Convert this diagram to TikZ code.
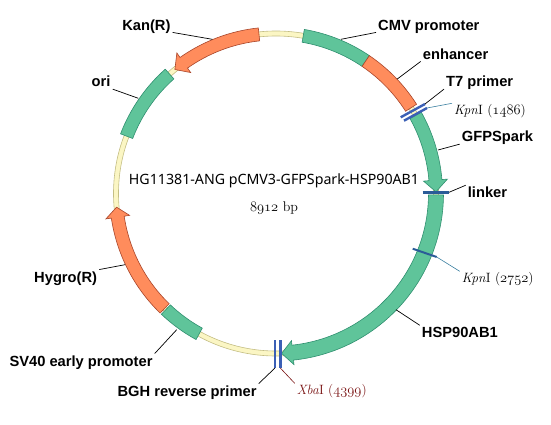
\documentclass[tikz,border=0pt]{standalone}
\usepackage{fontspec}
\newfontfamily\lblfont{Liberation Sans}
\newfontfamily\titlefont{Noto Sans}
\usetikzlibrary{arrows.meta,positioning}
\definecolor{bandgreen}{HTML}{5FC49A}
\definecolor{edgegreen}{HTML}{2F8F6F}
\definecolor{bandorange}{HTML}{FF8C5C}
\definecolor{edgeorange}{HTML}{A8452A}
\definecolor{backfill}{HTML}{FBF6C4}
\definecolor{backedge}{HTML}{C4BE84}
\definecolor{siteblue}{HTML}{3B5FB5}
\definecolor{sitenavy}{HTML}{2B5C98}
\definecolor{leadteal}{HTML}{3A7FA0}
\definecolor{sitered}{HTML}{7A1414}
\tikzset{
  greenband/.style={draw=edgegreen,fill=bandgreen,line width=0.6pt},
  orangeband/.style={draw=edgeorange,fill=bandorange,line width=0.6pt},
  backbone/.style={draw=backedge,fill=backfill,even odd rule,line width=0.6pt},
  lead/.style={black,line width=0.7pt},
  lbl/.style={font=\lblfont\bfseries\fontsize{14.7}{16}\selectfont,text height=10.5pt,text depth=0pt,inner sep=2pt},
  sitelbl/.style={font=\fontsize{13.5}{15}\selectfont,text height=9pt,text depth=0pt,inner sep=2pt},
  sitebar/.style={siteblue,line width=2.4pt}
}
\newcommand{\rout}{166.5pt}
\newcommand{\rin}{153.5pt}
\newcommand{\rmid}{160pt}
\newcommand{\rhi}{172pt}
\newcommand{\rlo}{148pt}
\newcommand{\onums}[1]{$\mathnormal{#1}$}
\newcommand{\plbox}[3]{\draw[#1] (#2:\rout) arc[start angle=#2,end angle=#3,radius=\rout] -- (#3:\rin) arc[start angle=#3,end angle=#2,radius=\rin] -- cycle;}
\newcommand{\plarrow}[4]{\draw[#1] (#2:\rout) arc[start angle=#2,end angle=#3,radius=\rout] -- (#3:\rhi) -- (#4:\rmid) -- (#3:\rlo) -- (#3:\rin) arc[start angle=#3,end angle=#2,radius=\rin] -- cycle;}
\begin{document}
\begin{tikzpicture}[x=1pt,y=1pt]
\useasboundingbox (0,0) rectangle (551,424);
% ring and features
\begin{scope}[shift={(276,230.5)}]
\draw[backbone] (0,0) circle[radius=162.5pt] (0,0) circle[radius=157.5pt];
\plbox{greenband}{80.2}{55.9}
\plbox{orangeband}{55.9}{32.4}
\plarrow{greenband}{29.2}{4.8}{0.6}
{\renewcommand{\rout}{167.5pt}\renewcommand{\rin}{152.5pt}\plarrow{greenband}{-0.5}{-84}{-88}}
\plbox{greenband}{131.7}{159}
\plarrow{orangeband}{96.1}{125.2}{129.2}
\plarrow{orangeband}{225.9}{188.5}{184.9}
\plbox{greenband}{226.5}{241.3}
\end{scope}
% site bars
\draw[sitebar] (400.7,306.7) coordinate (t7a) -- (425,320) coordinate (t7b);
\draw[sitebar] (404,303.3) coordinate (kpna) -- (427,316) coordinate (kpnb);
\draw[sitebar,sitenavy] (422.7,231.7) coordinate (lnka) -- (449,231.7) coordinate (lnkb);
\draw[sitebar,sitenavy,line width=2pt] (412.7,175.3) coordinate (kpnc) -- (436.7,167) coordinate (kpnd);
\draw[sitebar] (275,84) coordinate (bgha) -- (275,56) coordinate (bghb);
\draw[sitebar] (280.3,84) coordinate (xbaa) -- (280.3,56) coordinate (xbab);
% labels
\node[font=\titlefont\fontsize{14.2}{15}\selectfont,inner sep=0pt] (title) at (274,243.5) {HG11381-ANG pCMV3-GFPSpark-HSP90AB1};
\node[font=\fontsize{14}{15}\selectfont,inner sep=0pt] (size) at (274,216) {\onums{8912} bp};
\node[lbl,anchor=west] (cmv) at (376,399) {CMV promoter};
\node[lbl,anchor=west] (enh) at (420.7,370) {enhancer};
\node[lbl,anchor=west] (t7) at (444,342.3) {T7 primer};
\node[sitelbl,anchor=west] (kpnlbla) at (452,314) {\textit{Kpn}I (\onums{1486})};
\node[lbl,anchor=west] (gfp) at (459.7,287.3) {GFPSpark};
\node[lbl,anchor=west] (lnk) at (465.7,231.3) {linker};
\node[sitelbl,anchor=west] (kpnlblb) at (459.7,146) {\textit{Kpn}I (\onums{2752})};
\node[lbl,anchor=west] (hsp) at (419.7,91.3) {HSP90AB1};
\node[sitelbl,anchor=west,text=sitered] (xbalbl) at (294.7,34) {\textit{Xba}I (\onums{4399})};
\node[lbl,anchor=east] (bgh) at (258.7,33) {BGH reverse primer};
\node[lbl,anchor=east] (sv40) at (154.7,63) {SV40 early promoter};
\node[lbl,anchor=east] (hygro) at (99.3,147) {Hygro(R)};
\node[lbl,anchor=east] (ori) at (112.7,342.3) {ori};
\node[lbl,anchor=east] (kan) at (172.7,399) {Kan(R)};
% leaders
\coordinate (cmvp) at (341,384.7); \coordinate (enhp) at (397.3,345); \coordinate (gfpp) at (438,274);
\coordinate (hspp) at (396,114.3); \coordinate (hygrop) at (125,159.3); \coordinate (sv40p) at (176.7,94.3);
\coordinate (orip) at (138.3,325.7); \coordinate (kanp) at (212.3,384.7);
\draw[lead] (cmvp) -- (cmv.south west); \draw[lead] (enhp) -- (enh.south west);
\draw[lead] (t7b) -- (t7.south west); \draw[lead] (gfpp) -- (gfp.south west);
\draw[lead] (lnkb) -- (lnk.north west); \draw[lead] (hspp) -- (hsp.north west);
\draw[lead] (bghb) -- (bgh.north east); \draw[lead] (sv40p) -- (sv40.north east);
\draw[lead] (hygrop) -- (hygro.north east); \draw[lead] (orip) -- (ori.south east);
\draw[lead] (kanp) -- (kan.south east);
\draw[leadteal,line width=0.6pt] (kpnb) -- (kpnlbla.north west); \draw[leadteal,line width=0.6pt] (kpnd) -- (kpnlblb.north west);
\draw[sitered,line width=0.6pt] (xbab) -- (xbalbl.north west);
\end{tikzpicture}
\end{document}
